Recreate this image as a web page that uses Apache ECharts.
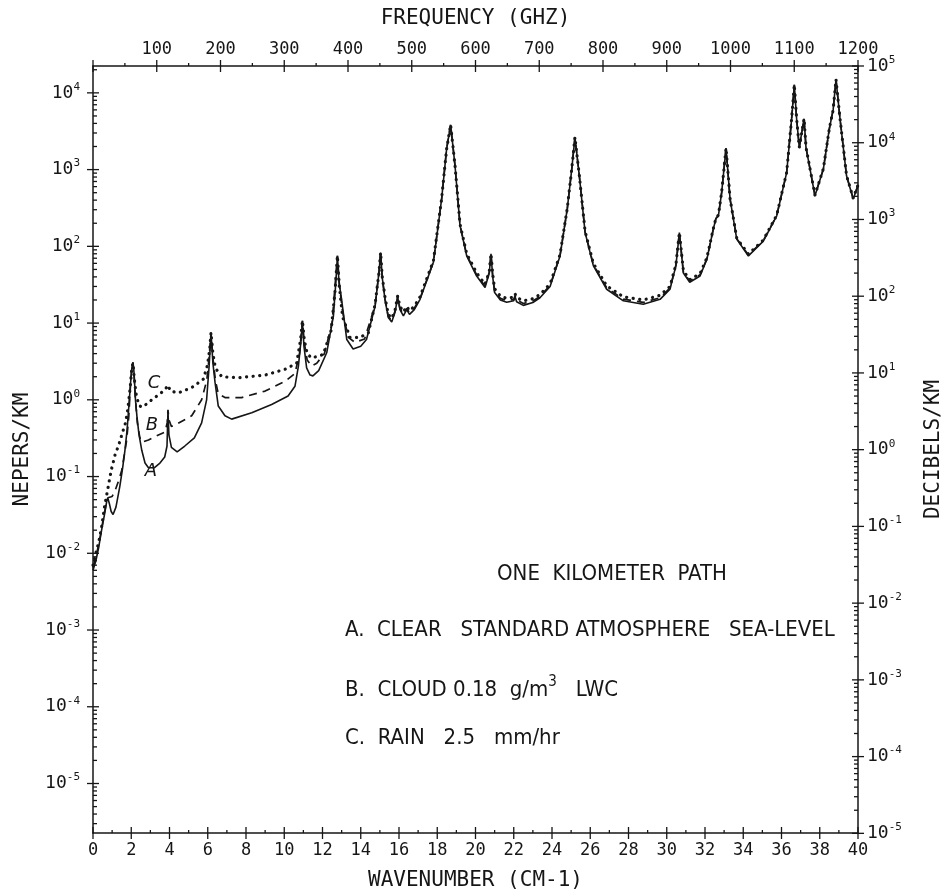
<!DOCTYPE html>
<html>
<head>
<meta charset="utf-8">
<script src="https://cdn.jsdelivr.net/npm/echarts@6/dist/echarts.min.js"></script>
<style>
  html, body { margin: 0; background: #fff; }
  #chart { width: 948px; height: 896px; }
</style>
</head>
<body>
<div id="chart"></div>
<script>
// low wavenumber part, [cm-1, nepers/km] -- the three curves split here
const clearLow = [
  [0.00, 0.0060], [0.15, 0.0080], [0.30, 0.012], [0.45, 0.020], [0.60, 0.032],
  [0.72, 0.048], [0.78, 0.052], [0.85, 0.045], [0.95, 0.035], [1.05, 0.032],
  [1.20, 0.040], [1.40, 0.074], [1.55, 0.13], [1.67, 0.22], [1.78, 0.40],
  [1.87, 0.80], [1.95, 1.5], [2.03, 2.6], [2.09, 3.1], [2.15, 2.2],
  [2.22, 1.0], [2.30, 0.6], [2.40, 0.36], [2.55, 0.22], [2.72, 0.15],
  [2.90, 0.13], [3.20, 0.13], [3.50, 0.15], [3.75, 0.18], [3.87, 0.25],
  [3.92, 0.72], [3.97, 0.35], [4.10, 0.24], [4.40, 0.21], [4.80, 0.25],
  [5.30, 0.32], [5.68, 0.50], [5.94, 1.0], [6.07, 2.7], [6.17, 7.5],
  [6.27, 3.0], [6.38, 1.7], [6.55, 0.83], [6.90, 0.62], [7.25, 0.56],
  [8.30, 0.68], [9.34, 0.87], [10.20, 1.12], [10.56, 1.5], [10.74, 2.75],
  [10.88, 6], [10.95, 10.7], [11.03, 5], [11.17, 2.6], [11.35, 2.1],
  [11.50, 2.05], [11.80, 2.4], [12.22, 4.1], [12.57, 12.3], [12.70, 35],
  [12.78, 75], [12.86, 35], [13.00, 20], [13.27, 6.1], [13.60, 4.6],
  [14.00, 5.0], [14.30, 6.1]
];
const cloudLow = [
  [0.00, 0.0065], [0.15, 0.009], [0.30, 0.013], [0.45, 0.021], [0.60, 0.034],
  [0.72, 0.048], [0.78, 0.053], [0.88, 0.052], [1.00, 0.055], [1.15, 0.065],
  [1.35, 0.09], [1.50, 0.12], [1.65, 0.20], [1.76, 0.30], [1.87, 0.60],
  [1.95, 1.4], [2.03, 2.6], [2.09, 3.0], [2.15, 2.0], [2.22, 1.0],
  [2.32, 0.5], [2.45, 0.32], [2.54, 0.28], [2.90, 0.30], [3.33, 0.34],
  [3.76, 0.38], [3.88, 0.5], [3.92, 0.74], [3.97, 0.55], [4.10, 0.45],
  [4.37, 0.48], [5.16, 0.62], [5.68, 1.0], [5.95, 1.8], [6.07, 3.5],
  [6.17, 7.5], [6.27, 3.5], [6.40, 1.8], [6.55, 1.2], [6.90, 1.07],
  [7.77, 1.07], [9.00, 1.3], [10.04, 1.74], [10.56, 2.2], [10.80, 4],
  [10.95, 10.7], [11.05, 5.5], [11.20, 3.3], [11.43, 2.75], [11.70, 3.0],
  [12.10, 4], [12.50, 10], [12.78, 75], [12.88, 32], [13.05, 14],
  [13.35, 6.5], [13.70, 5.6], [14.20, 6.2]
];
const rainLow = [
  [0.00, 0.007], [0.15, 0.010], [0.30, 0.014], [0.45, 0.022], [0.60, 0.040],
  [0.78, 0.070], [0.95, 0.12], [1.15, 0.19], [1.35, 0.26], [1.55, 0.38],
  [1.70, 0.50], [1.82, 0.75], [1.95, 1.5], [2.03, 2.6], [2.09, 3.0],
  [2.15, 2.0], [2.25, 1.2], [2.40, 0.85], [2.55, 0.80], [2.80, 0.88],
  [3.07, 1.0], [3.40, 1.15], [3.76, 1.35], [3.92, 1.55], [4.05, 1.3],
  [4.46, 1.23], [5.16, 1.44], [5.77, 1.86], [5.98, 2.8], [6.10, 4.5],
  [6.17, 7.5], [6.27, 4.0], [6.40, 2.6], [6.73, 2.0], [7.60, 1.94],
  [9.00, 2.1], [10.04, 2.5], [10.65, 3.0], [10.85, 6], [10.95, 10.7],
  [11.05, 6], [11.20, 4.0], [11.43, 3.5], [12.04, 3.9], [12.45, 8],
  [12.65, 25], [12.78, 75], [12.88, 30], [13.05, 12], [13.44, 6.5],
  [13.96, 6.5], [14.40, 7.5]
];

// above ~14.7 cm-1 the curves nearly coincide
const wnTail = [
  14.75, 14.95, 15.04, 15.12, 15.27, 15.44, 15.62, 15.80, 15.93, 16.05,
  16.23, 16.40, 16.55, 16.80, 17.10, 17.80, 18.23, 18.49, 18.70, 18.93,
  19.19, 19.54, 20.06, 20.50, 20.72, 20.81, 20.90, 21.00, 21.30, 21.63,
  22.00, 22.07, 22.15, 22.50, 23.00, 23.37, 23.90, 24.42, 24.80, 25.03,
  25.20, 25.43, 25.73, 26.16, 26.86, 27.73, 28.77, 29.65, 30.17, 30.48,
  30.66, 30.87, 31.20, 31.74, 32.10, 32.43, 32.57, 32.70, 32.87, 33.10,
  33.31, 33.66, 34.27, 35.05, 35.75, 36.27, 36.53, 36.67, 36.79, 36.93,
  37.10, 37.18, 37.28, 37.49, 37.75, 37.84, 38.19, 38.50, 38.70, 38.85,
  39.06, 39.40, 39.75, 40.00
];
const clearTail = [
  16.6, 45, 83, 40, 20, 11.8, 10.3, 14, 22, 15,
  12.4, 15, 13, 15, 20.4, 62, 415, 1860, 3830, 1120,
  187, 75, 41, 29, 45, 80, 40, 25, 20, 18.7,
  19.5, 22, 19, 17, 18.5, 21.4, 30, 75, 310, 1000,
  2630, 830, 152, 56, 27.6, 19.5, 17.6, 20.4, 27.6, 56,
  151, 45, 34, 41, 68, 166, 230, 250, 500, 1900,
  415, 124, 75, 117, 250, 915, 4600, 12700, 4600, 1950,
  3500, 4600, 1950, 1020, 455, 435, 1020, 3400, 6000, 14900,
  4600, 830, 415, 620
];
const cloudTail = [
  17, 45, 83, 40, 20.5, 12.2, 10.8, 14.5, 22, 15.5,
  13, 15.5, 13.6, 15.6, 21, 63, 415, 1860, 3830, 1120,
  190, 77, 42.5, 30.5, 46, 80, 41, 26, 21, 19.6,
  20.4, 22.6, 20, 18, 19.4, 22.2, 31, 76, 310, 1000,
  2630, 830, 154, 58, 28.8, 20.5, 18.6, 21.4, 28.6, 57,
  151, 46, 35.5, 42.5, 69, 166, 230, 252, 500, 1900,
  415, 126, 77, 119, 252, 915, 4600, 12700, 4600, 1950,
  3500, 4600, 1950, 1020, 460, 440, 1020, 3400, 6000, 14900,
  4600, 835, 420, 625
];
const rainTail = [
  17.5, 45, 83, 41, 21.5, 13, 11.5, 15, 22.5, 16.5,
  14, 16.5, 14.5, 16.5, 22, 65, 420, 1860, 3830, 1120,
  195, 80, 45, 32, 47, 80, 43, 28, 22.5, 21,
  21.8, 24, 21.5, 19.5, 20.8, 23.5, 32.5, 78, 315, 1000,
  2630, 830, 157, 60, 30.5, 22, 20, 23, 30, 58,
  151, 48, 37, 44, 71, 168, 232, 255, 505, 1900,
  420, 128, 79, 121, 255, 920, 4600, 12700, 4600, 1950,
  3500, 4600, 1960, 1030, 465, 445, 1030, 3400, 6000, 14900,
  4600, 840, 425, 630
];

const ink = "#161616";
const mono = "DejaVu Sans Mono";
const narrow = '"Liberation Sans Narrow", "DejaVu Sans Condensed", "Open Sans", sans-serif';

const withTail = (low, vals) => low.concat(wnTail.map((w, i) => [w, vals[i]]));

// "10^n" labels for the log axes
function powLabel(value) {
  const lg = Math.log10(value);
  const n = Math.round(lg);
  if (Math.abs(lg - n) > 0.01) return "";
  return "{b|10}{e|" + n + "}";
}
const powRich = {
  b: { fontFamily: mono, fontSize: 18, color: ink },
  e: { fontFamily: mono, fontSize: 11, color: ink, padding: [0, 0, 12, 0] }
};

// axis tick marks (major ones cross the frame, minor ones point inward)
function tickMarks(kind) {
  return {
    type: "custom",
    silent: true,
    clip: false,
    xAxisIndex: kind === "top" ? 1 : 0,
    yAxisIndex: kind === "right" ? 1 : 0,
    data: [[kind === "top" ? 600 : 20, 1]],
    renderItem: function(params, api) {
      const cs = params.coordSys;
      const kids = [];
      const seg = (x1, y1, x2, y2) =>
        kids.push({ type: "line", shape: { x1, y1, x2, y2 }, style: { stroke: ink, lineWidth: 1.3 } });
      if (kind === "left" || kind === "right") {
        const x0 = kind === "left" ? cs.x : cs.x + cs.width;
        const dir = kind === "left" ? 1 : -1;
        for (let n = -6; n <= 5; n++) {
          for (let k = 1; k <= 9; k++) {
            const y = api.coord([20, k * Math.pow(10, n)])[1];
            if (y < cs.y - 0.5 || y > cs.y + cs.height + 0.5) continue;
            if (k === 1) seg(x0 - 6 * dir, y, x0 + 6 * dir, y);
            else seg(x0, y, x0 + 4 * dir, y);
          }
        }
      } else if (kind === "bottom") {
        const y0 = cs.y + cs.height;
        for (let w = 0; w <= 40; w++) {
          const x = api.coord([w, 1])[0];
          if (w % 2 === 0) seg(x, y0 - 6, x, y0 + 6);
          else seg(x, y0, x, y0 - 3);
        }
      } else {
        const y0 = cs.y;
        for (let f = 0; f <= 1200; f += 50) {
          const x = api.coord([f, 1])[0];
          if (f % 100 === 0) seg(x, y0 - 6, x, y0 + 6);
          else seg(x, y0, x, y0 - 3);
        }
      }
      return { type: "group", children: kids };
    }
  };
}

const axisLine = { show: true, onZero: false, lineStyle: { color: ink, width: 1.5 } };
const nameStyle = { fontFamily: mono, fontSize: 21, color: ink };
const plain = v => String(v);

const chart = echarts.init(document.getElementById("chart"));
chart.setOption({
  backgroundColor: "#fff",
  animation: false,
  grid: { left: 93, right: 90, top: 66, bottom: 63, containLabel: false, outerBoundsMode: "none" },
  xAxis: [
    {
      type: "value",
      position: "bottom",
      min: 0,
      max: 40,
      interval: 2,
      axisLine: axisLine,
      axisTick: { show: false },
      splitLine: { show: false },
      axisLabel: { margin: 9, fontFamily: mono, fontSize: 17, color: ink, formatter: plain },
      name: "WAVENUMBER (CM-1)",
      nameLocation: "middle",
      nameGap: 37,
      nameTextStyle: nameStyle
    },
    {
      type: "value",
      position: "top",
      min: 0,
      max: 1200,
      interval: 100,
      axisLine: axisLine,
      axisTick: { show: false },
      splitLine: { show: false },
      axisLabel: { margin: 8, showMinLabel: false, fontFamily: mono, fontSize: 17, color: ink, formatter: plain },
      name: "FREQUENCY (GHZ)",
      nameLocation: "middle",
      nameGap: 37,
      nameTextStyle: nameStyle
    }
  ],
  yAxis: [
    {
      type: "log",
      position: "left",
      min: Math.pow(10, -5.645),
      max: Math.pow(10, 4.35),
      splitNumber: 10,
      axisLine: axisLine,
      axisTick: { show: false },
      minorTick: { show: false },
      splitLine: { show: false },
      axisLabel: { margin: 13, showMinLabel: false, showMaxLabel: false, formatter: powLabel, rich: powRich },
      name: "NEPERS/KM",
      nameLocation: "middle",
      nameGap: 60,
      nameRotate: 90,
      nameTextStyle: nameStyle
    },
    {
      type: "log",
      position: "right",
      min: 1.01e-5,
      max: 1e5,
      splitNumber: 10,
      axisLine: axisLine,
      axisTick: { show: false },
      minorTick: { show: false },
      splitLine: { show: false },
      axisLabel: { margin: 9, formatter: powLabel, rich: powRich },
      name: "DECIBELS/KM",
      nameLocation: "middle",
      nameGap: 65,
      nameRotate: 90,
      nameTextStyle: nameStyle
    }
  ],
  series: [
    {
      name: "A",
      type: "line",
      showSymbol: false,
      lineStyle: { color: ink, width: 1.6 },
      data: withTail(clearLow, clearTail)
    },
    {
      name: "B",
      type: "line",
      showSymbol: false,
      lineStyle: { color: ink, width: 1.7, type: [8, 6] },
      data: withTail(cloudLow, cloudTail)
    },
    {
      name: "C",
      type: "line",
      showSymbol: false,
      lineStyle: { color: ink, width: 3.2, type: [0.1, 6.5], cap: "round" },
      data: withTail(rainLow, rainTail)
    },
    tickMarks("left"),
    tickMarks("right"),
    tickMarks("bottom"),
    tickMarks("top")
  ],
  graphic: [
    { type: "text", x: 154, y: 383, style: { text: "C", fontFamily: "DejaVu Sans", fontStyle: "italic", fontSize: 18, fill: ink, align: "center", verticalAlign: "middle" } },
    { type: "text", x: 152, y: 425, style: { text: "B", fontFamily: "DejaVu Sans", fontStyle: "italic", fontSize: 18, fill: ink, align: "center", verticalAlign: "middle" } },
    { type: "text", x: 151, y: 471, style: { text: "A", fontFamily: "DejaVu Sans", fontStyle: "italic", fontSize: 18, fill: ink, align: "center", verticalAlign: "middle" } },
    { type: "text", x: 497, y: 574, style: { text: "ONE  KILOMETER  PATH", fontFamily: narrow, fontSize: 22, fill: ink, verticalAlign: "middle" } },
    { type: "text", x: 345, y: 630, style: { text: "A.  CLEAR   STANDARD ATMOSPHERE   SEA-LEVEL", fontFamily: narrow, fontSize: 22, fill: ink, verticalAlign: "middle" } },
    {
      type: "text", x: 345, y: 690,
      style: {
        text: "B.  CLOUD 0.18  g/m{s|3}   LWC",
        fontFamily: narrow, fontSize: 22, fill: ink, verticalAlign: "middle",
        rich: { s: { fontFamily: narrow, fontSize: 15, fill: ink, padding: [0, 0, 16, 0] } }
      }
    },
    { type: "text", x: 345, y: 738, style: { text: "C.  RAIN   2.5   mm/hr", fontFamily: narrow, fontSize: 22, fill: ink, verticalAlign: "middle" } }
  ]
});
</script>
</body>
</html>
